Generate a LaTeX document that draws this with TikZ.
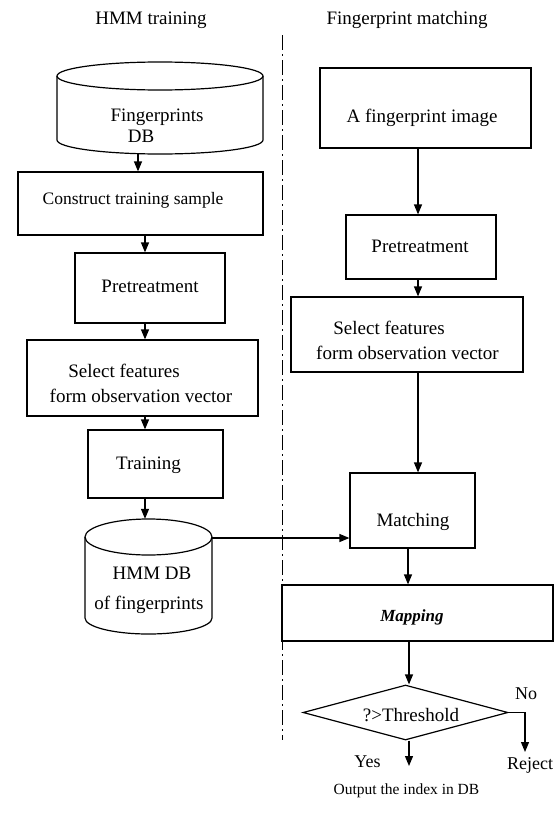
\documentclass[tikz,border=0pt]{standalone}
\usepackage{fontspec}
\setmainfont{Liberation Serif}
\usetikzlibrary{arrows.meta,shapes.geometric}
\begin{document}
\begin{tikzpicture}[x=1pt,y=-1pt,
  box/.style={draw, line width=1.2pt, inner sep=0pt},
  txt/.style={inner sep=0pt, font=\fontsize{19}{23}\selectfont, text height=0.95em, text depth=0.05em},
  arr/.style={line width=1.2pt, -{Triangle[length=10pt,width=8pt]}},
  ln/.style={line width=1.2pt},
]
\useasboundingbox (0,0) rectangle (559,827);
% titles
\node[txt] (t1) at (151,20) {HMM training};
\node[txt] (t2) at (407,20) {Fingerprint matching};
% separator
\draw[line width=1pt, dash pattern=on 15pt off 4pt on 2pt off 4pt] (282,35) -- (282,740);

% ---- left column ----
\node[inner sep=0pt, minimum width=206pt, minimum height=92pt] (db1) at (160,108) {};
\draw[ln, fill=white] (57,76) -- (57,140) arc[start angle=180,end angle=360,x radius=103pt,y radius=14pt] -- (263,76);
\draw[ln] (160,76) ellipse[x radius=103pt, y radius=14pt];
\node[txt] (db1a) at (157,117) {Fingerprints};
\node[txt] (db1b) at (141,138) {DB};

\node[box, minimum width=245pt, minimum height=63pt] (cons) at (140.5,203.5) {};
\node[txt, font=\fontsize{17.5}{21}\selectfont] (consT) at (133,200) {Construct training sample};

\node[box, minimum width=150pt, minimum height=70pt] (pre1) at (150,288) {};
\node[txt] (pre1T) at (150,288) {Pretreatment};

\node[box, minimum width=231pt, minimum height=76pt] (sel1) at (142.5,378) {};
\node[txt] (sel1a) at (124,373) {Select features};
\node[txt] (sel1b) at (141,398) {form observation vector};

\node[box, minimum width=135pt, minimum height=68pt] (train) at (155.5,464) {};
\node[txt] (trainT) at (148.5,465) {Training};

\node[inner sep=0pt, minimum width=127pt, minimum height=115pt] (db2) at (148.5,576.5) {};
\draw[ln] (85,537) -- (85,618) arc[start angle=180,end angle=360,x radius=63.5pt,y radius=16pt] -- (212,537);
\draw[ln] (148.5,537) ellipse[x radius=63.5pt, y radius=18pt];
\node[txt] (db2a) at (152,575) {HMM DB};
\node[txt] (db2b) at (149,605) {of fingerprints};
\coordinate (db2e) at (212,538);

% left arrows
\draw[arr] ([xshift=-22pt]db1.south) -- ([xshift=-22pt]db1.south |- cons.north);
\draw[arr] (cons.south -| 145,0) -- (pre1.north -| 145,0);
\draw[arr] (pre1.south -| 145,0) -- (sel1.north -| 145,0);
\draw[arr] (sel1.south -| 145,0) -- (train.north -| 145,0);
\draw[arr] (train.south -| 145,0) -- (db2.north -| 145,0);

% ---- right column ----
\node[box, minimum width=211pt, minimum height=80pt] (img) at (425.5,108) {};
\node[txt] (imgT) at (422,118) {A fingerprint image};

\node[box, minimum width=150pt, minimum height=64pt] (pre2) at (421,247) {};
\node[txt] (pre2T) at (420,248) {Pretreatment};

\node[box, minimum width=232pt, minimum height=75pt] (sel2) at (407,334.5) {};
\node[txt] (sel2a) at (389,330) {Select features};
\node[txt] (sel2b) at (407.5,355) {form observation vector};

\node[box, minimum width=125pt, minimum height=75pt] (match) at (412.5,510.5) {};
\node[txt] (matchT) at (413,522) {Matching};

\node[box, minimum width=271pt, minimum height=56pt] (map) at (417.5,613) {};
\node[txt, font=\fontsize{17}{21}\selectfont\bfseries\itshape] (mapT) at (412,617) {Mapping};

\node[draw, diamond, line width=1.2pt, minimum width=205pt, minimum height=55pt, inner sep=0pt, aspect=3.7] (dec) at (405.5,712.5) {};
\node[txt] (decT) at (411,717) {?>Threshold};

\node[txt, font=\fontsize{18}{22}\selectfont] (no) at (526,695) {No};
\node[txt, font=\fontsize{18}{22}\selectfont] (rej) at (530,765) {Reject};
\node[txt, font=\fontsize{18}{22}\selectfont] (yes) at (367.5,763) {Yes};
\node[txt, font=\fontsize{15.5}{19}\selectfont] (out) at (406.5,790) {Output the index in DB};

% right arrows
\draw[arr] (img.south -| 418,0) -- (pre2.north -| 418,0);
\draw[arr] (pre2.south -| 418,0) -- (sel2.north -| 418,0);
\draw[arr] (sel2.south -| 418,0) -- (match.north -| 418,0);
\draw[arr] (match.south -| 408,0) -- (map.north -| 408,0);
\draw[arr] (map.south -| 409,0) -- (dec.north -| 409,0);
\draw[arr] (db2e) -- (db2e -| match.west);
\draw[arr] (dec.east) -- (525,712.5) -- (525,752);
\draw[arr] (dec.south -| 409,0) -- (409,766);
\end{tikzpicture}
\end{document}
